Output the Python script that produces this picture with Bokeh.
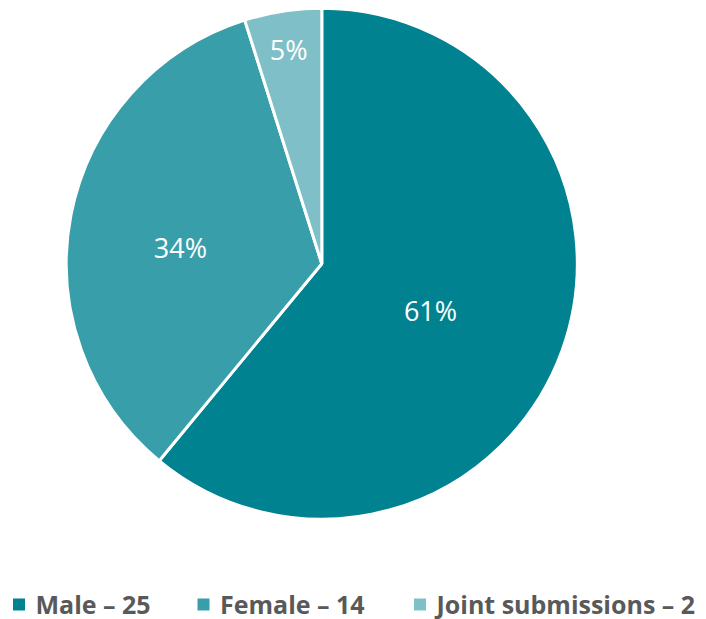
import math
from bokeh.plotting import figure
from bokeh.models import ColumnDataSource
from bokeh.core.properties import value
from bokeh.embed import file_html
from bokeh.resources import INLINE

# ---- data ----
categories = ["Male", "Female", "Joint submissions"]
counts = [25, 14, 2]
colors = ["#008290", "#389EA9", "#7FC0C8"]
label_r = [0.463, 0.557, 0.85]     # relative radius of the percentage labels
label_shift = [-3.5, 4.4, 0.0]     # degrees, label angle relative to slice middle

W, H = 706, 619
p = figure(width=W, height=H, x_range=(0, W), y_range=(0, H),
           output_backend="svg", toolbar_location=None, min_border=0,
           outline_line_color=None)
p.axis.visible = False
p.grid.visible = False
p.background_fill_color = "white"
p.border_fill_color = "white"

cx, cy, R = 321.3, 355.8, 255.5
total = sum(counts)
starts, ends, lx, ly, labels = [], [], [], [], []
a = math.pi / 2
for c, fr, sh in zip(counts, label_r, label_shift):
    sweep = 2 * math.pi * c / total
    starts.append(a)
    ends.append(a - sweep)
    mid = a - sweep / 2 + math.radians(sh)
    lx.append(cx + fr * R * math.cos(mid))
    ly.append(cy + fr * R * math.sin(mid))
    labels.append(f"{round(100 * c / total)}%")
    a -= sweep

src = ColumnDataSource(dict(start=starts, end=ends, color=colors,
                            lx=lx, ly=ly, label=labels))
p.wedge(x=cx, y=cy, radius=R, start_angle="end", end_angle="start",
        fill_color="color", line_color="white", line_width=3, source=src)
p.text(x="lx", y="ly", text="label", source=src, text_color="white",
       text_font=value("Open Sans"), text_font_size="27px",
       text_align="center", text_baseline="middle")

# ---- legend ----
sq_x = [18.5, 203.0, 419.5]
leg_text = [f"{n} – {c}" for n, c in zip(categories, counts)]
lsrc = ColumnDataSource(dict(x=sq_x, tx=[x + 16.5 for x in sq_x],
                             color=colors, text=leg_text))
p.rect(x="x", y=15, width=12, height=12, fill_color="color",
       line_color=None, source=lsrc)
p.text(x="tx", y=16, text="text", source=lsrc, text_color="#595959",
       text_font=value("Open Sans"), text_font_size="25px",
       text_font_style="bold", text_align="left", text_baseline="middle")

open("out.html", "w").write(file_html(p, INLINE))
